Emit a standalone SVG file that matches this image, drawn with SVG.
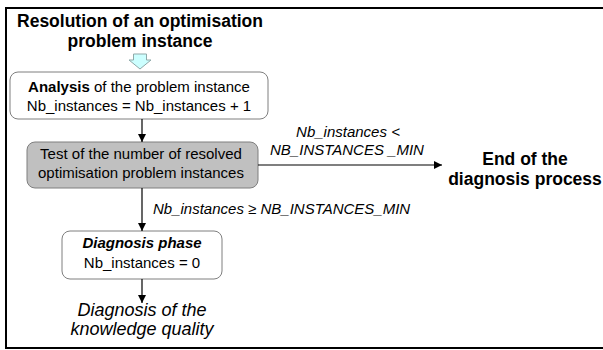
<svg xmlns="http://www.w3.org/2000/svg" width="603" height="350" viewBox="0 0 603 350">
<style>
text{font-family:"Liberation Sans",Arial,sans-serif;fill:#000}
.t15{font-size:15px}
.b{font-weight:bold}
.i{font-style:italic}
.box{fill:#fff;stroke:#7f7f7f;stroke-width:1}
.gray{fill:#c0c0c0;stroke:#7f7f7f;stroke-width:1}
.conn{stroke:#000;stroke-width:1.2;fill:none;marker-end:url(#ah)}
</style>
<defs>
<marker id="ah" viewBox="0 0 10 10" refX="10" refY="5" markerWidth="8" markerHeight="8" markerUnits="userSpaceOnUse" orient="auto">
<path d="M0,0 L10,5 L0,10 z" fill="#000"/>
</marker>
</defs>
<rect x="6" y="8" width="640" height="340" fill="#fff" stroke="#000" stroke-width="2"/>
<g id="title">
<text class="b" x="140" y="27" font-size="17.5" text-anchor="middle">Resolution of an optimisation</text>
<text class="b" x="140" y="47" font-size="17.5" text-anchor="middle">problem instance</text>
<polygon points="133.5,54 146.5,54 146.5,60 151,60 140,69 129,60 133.5,60" fill="#ccffff" stroke="#8fa9a9" stroke-width="1"/>
</g>
<g id="analysis">
<rect class="box" x="10" y="72" width="258" height="47" rx="8"/>
<text class="t15" x="139" y="92" text-anchor="middle"><tspan class="b">Analysis</tspan> of the problem instance</text>
<text class="t15" x="139" y="111" text-anchor="middle">Nb_instances = Nb_instances + 1</text>
</g>
<g id="test">
<rect class="gray" x="27" y="142" width="231" height="46" rx="8"/>
<text class="t15" x="141" y="159" text-anchor="middle">Test of the number of resolved</text>
<text class="t15" x="141" y="178" text-anchor="middle">optimisation problem instances</text>
</g>
<g id="end">
<text class="b" x="525" y="165" font-size="17.5" text-anchor="middle">End of the</text>
<text class="b" x="525" y="185" font-size="17.5" text-anchor="middle">diagnosis process</text>
</g>
<g id="diagnosis">
<rect class="box" x="62" y="231" width="160" height="48" rx="8"/>
<text class="t15 b i" x="142" y="248" text-anchor="middle">Diagnosis phase</text>
<text class="t15" x="142" y="268" text-anchor="middle">Nb_instances = 0</text>
</g>
<g id="quality">
<text class="i" x="142" y="316" font-size="18" text-anchor="middle">Diagnosis of the</text>
<text class="i" x="142" y="335" font-size="18" text-anchor="middle">knowledge quality</text>
</g>
<g id="connectors">
<line class="conn" x1="142" y1="119" x2="142" y2="142"/>
<line class="conn" x1="258" y1="165" x2="442" y2="165"/>
<line class="conn" x1="142" y1="188" x2="142" y2="231"/>
<line class="conn" x1="142" y1="279" x2="142" y2="303"/>
<text class="t15 i" x="348" y="137" text-anchor="middle">Nb_instances &lt;</text>
<text class="t15 i" x="347" y="155" text-anchor="middle">NB_INSTANCES _MIN</text>
<text class="t15 i" x="153" y="214">Nb_instances ≥ NB_INSTANCES_MIN</text>
</g>
</svg>
